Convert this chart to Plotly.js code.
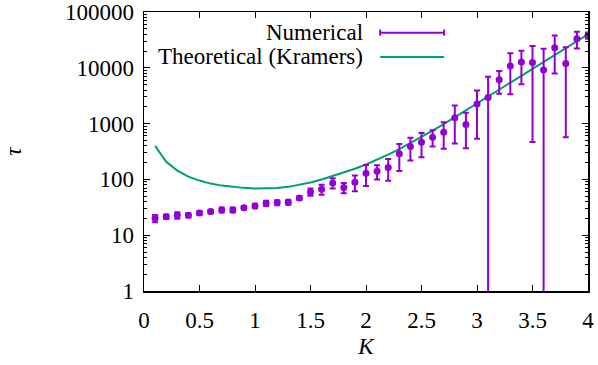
<!DOCTYPE html>
<html>
<head>
<meta charset="utf-8">
<script src="https://cdn.plot.ly/plotly-3.0.1.min.js"></script>
<style>html,body{margin:0;padding:0;background:#fff;}</style>
</head>
<body>
<div id="chart" style="width:598px;height:365px;"></div>
<script>
// K values (0.1 ... 4.0)
const K = [0.1,0.2,0.3,0.4,0.5,0.6,0.7,0.8,0.9,1.0,
           1.1,1.2,1.3,1.4,1.5,1.6,1.7,1.8,1.9,2.0,
           2.1,2.2,2.3,2.4,2.5,2.6,2.7,2.8,2.9,3.0,
           3.1,3.2,3.3,3.4,3.5,3.6,3.7,3.8,3.9,4.0];
// Numerical mean escape time
const tauNum = [20.1,21.5,22.8,22.8,25.1,26.5,28.4,28.4,31.2,33.5,
                37.4,38.4,39.0,46.6,59.7,66.8,86.6,71.3,89.1,129,
                140,163,287,388,465,572,703,1270,963,2235,
                2938,6100,10740,12680,12470,9110,22890,11970,33190,38040];
// Symmetric error (linear)
const tauErr = [3,2,3,2,2,2,3,3,2,3,
                4,4,4,4,9,13.5,18,15,28,53,
                40,68,146,170,215,185,350,830,600,1700,
                3970,2660,7400,7600,12000,12850,15000,11400,11000,5000];
// Theoretical (Kramers) curve
const tauTheo = [399,206,144,112,95.3,84.1,77.4,73.5,70.5,68.7,
                 68.4,70.0,73.5,79.4,87.7,99.3,114,132,155,185,
                 224,277,348,444,571,745,980,1297,1726,2296,
                 3055,4064,5408,7194,9572,12735,16943,22542,29992,39902];

const xTicks = [0,0.5,1,1.5,2,2.5,3,3.5,4];
const xTickText = ['0','0.5','1','1.5','2','2.5','3','3.5','4'];
const yTicks = [1,10,100,1000,10000,100000];
const yTickText = ['1','10','100','1000','10000','100000'];
const legendNames = ['Numerical','Theoretical (Kramers)'];

// minor log ticks (2..9 in each decade)
const yMinor = [];
for (let d = 0; d < 5; d++) for (let m = 2; m <= 9; m++) yMinor.push(m * Math.pow(10, d));

const purple = '#9400d3';
const green = '#009e73';
const FONT = 'Liberation Serif';
const FS = 23;
const F = {family: FONT, size: FS, color: '#000'};

const traces = [
  {
    x: K, y: tauTheo, type: 'scatter', mode: 'lines',
    line: {color: green, width: 2},
    showlegend: false, hoverinfo: 'skip'
  },
  {
    x: K, y: tauNum, type: 'scatter', mode: 'markers',
    marker: {color: purple, size: 7, symbol: 'circle'},
    error_y: {type: 'data', symmetric: true, array: tauErr, color: purple, thickness: 2, width: 3},
    showlegend: false
  }
];

// legend drawn gnuplot-style (text right, sample left-to-right)
const L = {x0: 0.532, x1: 0.676, xt: 0.498, y1: 0.926, y2: 0.839, cap: 0.011};
const layout = {
  width: 598, height: 365,
  margin: {l: 144, r: 10, t: 12, b: 74},
  paper_bgcolor: '#fff', plot_bgcolor: '#fff',
  font: F,
  showlegend: false,
  xaxis: {
    range: [0, 4], tickvals: xTicks, ticktext: xTickText,
    ticks: 'inside', ticklen: 6, tickwidth: 1, tickcolor: '#000',
    showline: true, linecolor: '#000', linewidth: 1.5, mirror: 'allticks',
    showgrid: false, zeroline: false, ticklabelstandoff: 8,
    tickfont: F,
    title: {text: '<i>K</i>', font: F, standoff: 6}
  },
  yaxis: {
    type: 'log', range: [0, 5], tickvals: yTicks, ticktext: yTickText,
    ticks: 'inside', ticklen: 6, tickwidth: 1, tickcolor: '#000',
    minor: {ticks: 'inside', ticklen: 3, tickwidth: 1, tickcolor: '#000', tickvals: yMinor, showgrid: false},
    showline: true, linecolor: '#000', linewidth: 1.5, mirror: 'allticks',
    showgrid: false, zeroline: false, ticklabelstandoff: 4,
    tickfont: F,
    title: {text: '<i>τ</i>', font: F, standoff: 37}
  },
  annotations: [
    {xref: 'paper', yref: 'paper', x: L.xt, y: L.y1, xanchor: 'right', yanchor: 'middle',
     text: legendNames[0], showarrow: false, font: F},
    {xref: 'paper', yref: 'paper', x: L.xt, y: L.y2, xanchor: 'right', yanchor: 'middle',
     text: legendNames[1], showarrow: false, font: F}
  ],
  shapes: [
    {type: 'line', xref: 'paper', yref: 'paper', x0: L.x0, x1: L.x1, y0: L.y1, y1: L.y1, line: {color: purple, width: 2}},
    {type: 'line', xref: 'paper', yref: 'paper', x0: L.x0, x1: L.x0, y0: L.y1 - L.cap, y1: L.y1 + L.cap, line: {color: purple, width: 2}},
    {type: 'line', xref: 'paper', yref: 'paper', x0: L.x1, x1: L.x1, y0: L.y1 - L.cap, y1: L.y1 + L.cap, line: {color: purple, width: 2}},
    {type: 'line', xref: 'paper', yref: 'paper', x0: L.x0, x1: L.x1, y0: L.y2, y1: L.y2, line: {color: green, width: 2}}
  ]
};

Plotly.newPlot('chart', traces, layout, {displayModeBar: false, staticPlot: true});
</script>
</body>
</html>
